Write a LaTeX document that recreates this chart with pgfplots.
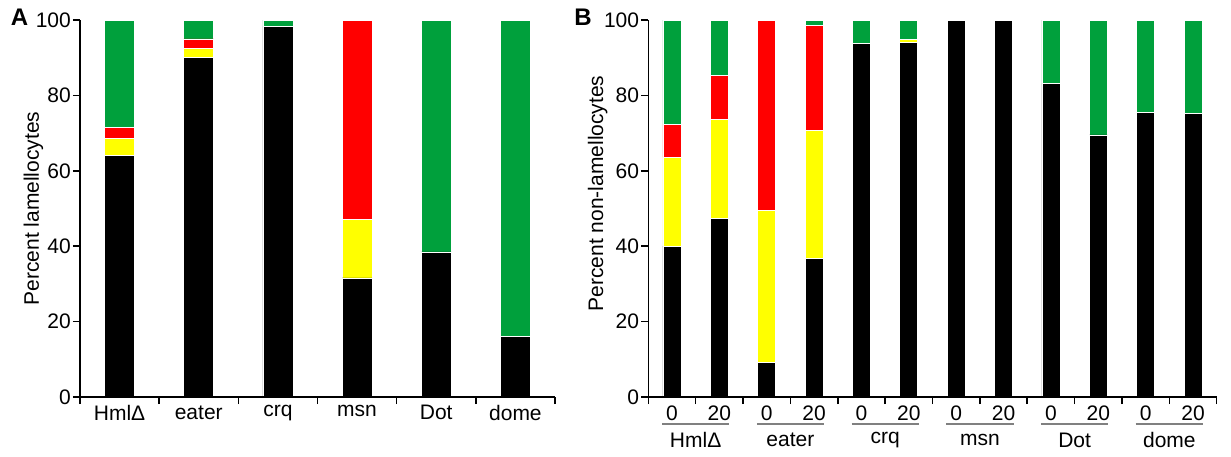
\documentclass[border=0pt]{standalone}
\usepackage{fontspec}
\setmainfont{Liberation Sans}
\usepackage{pgfplots}
\pgfplotsset{compat=1.18}
\definecolor{bgreen}{RGB}{0,160,60}
\definecolor{byellow}{RGB}{255,255,0}
\definecolor{bred}{RGB}{255,0,0}

\pgfplotsset{
  panel/.style={
    scale only axis, height=377pt,
    ymin=0, ymax=100, ytick={0,20,...,100},
    axis x line*=bottom, axis y line*=left,
    axis line style={line width=1.5pt},
    axis on top,
    ybar stacked, clip=false,
    tick style={line width=1.5pt, black},
    tick align=outside, major tick length=7pt,
    /pgf/number format/assume math mode=true,
    tick label style={font=\fontsize{21}{25}\selectfont},
    yticklabel style={inner sep=2pt},
    xticklabel style={yshift=-5pt},
    label style={font=\fontsize{21}{25}\selectfont},
    every axis plot/.append style={draw=white, line width=0.7pt},
    extra x tick style={major tick length=0pt},
  }
}

\begin{document}
\begin{tikzpicture}
\useasboundingbox (0,0) rectangle (1231pt,456pt);
\node[font=\bfseries\fontsize{24}{28}\selectfont] at (19.5pt,438.5pt) {A};
\node[font=\bfseries\fontsize{24}{28}\selectfont] at (583pt,438.5pt) {B};

% panel A
\begin{axis}[panel, width=475pt, at={(80pt,59pt)}, anchor=south west,
  xmin=-0.5, xmax=5.5, bar width=30pt,
  xtick={-0.5,0.5,...,5.5}, xticklabels={},
  extra x ticks={0,1,2,3,4,5},
  extra x tick labels={HmlΔ,eater,crq,msn,Dot,dome},
  ylabel={Percent lamellocytes}, ylabel shift={-13pt}]
\addplot[fill=black] coordinates {(0,64) (1,90) (2,98.2) (3,31.6) (4,38.5) (5,16)};
\addplot[fill=byellow] coordinates {(0,4.6) (1,2.5) (2,0) (3,15.6) (4,0) (5,0)};
\addplot[fill=bred] coordinates {(0,2.8) (1,2.5) (2,0) (3,52.8) (4,0) (5,0)};
\addplot[fill=bgreen] coordinates {(0,28.6) (1,5) (2,1.8) (3,0) (4,61.5) (5,84)};
\end{axis}

% panel B
\begin{axis}[panel, width=568.4pt, at={(648.3pt,59pt)}, anchor=south west,
  xmin=-0.5, xmax=11.5, bar width=18pt,
  xtick={-0.5,0.5,...,11.5}, xticklabels={},
  extra x ticks={0,1,...,11},
  extra x tick labels={0,20,0,20,0,20,0,20,0,20,0,20},
  ylabel={Percent non-lamellocytes}, ylabel shift={-9pt},
  ylabel style={at={(ticklabel cs:0.54)}}]
\addplot[fill=black] coordinates {(0,40) (1,47.4) (2,9.1) (3,36.8) (4,93.8) (5,94) (6,100) (7,100) (8,83.2) (9,69.5) (10,75.5) (11,75.2)};
\addplot[fill=byellow] coordinates {(0,23.6) (1,26.3) (2,40.5) (3,33.8) (4,0) (5,0.8) (6,0) (7,0) (8,0) (9,0) (10,0) (11,0)};
\addplot[fill=bred] coordinates {(0,8.7) (1,11.7) (2,50.4) (3,27.9) (4,0) (5,0) (6,0) (7,0) (8,0) (9,0) (10,0) (11,0)};
\addplot[fill=bgreen] coordinates {(0,27.7) (1,14.6) (2,0) (3,1.5) (4,6.2) (5,5.2) (6,0) (7,0) (8,16.8) (9,30.5) (10,24.5) (11,24.8)};
\draw[gray, line width=2pt] (axis cs:-0.21,-7.2) -- (axis cs:1.21,-7.2);
\draw[gray, line width=2pt] (axis cs:1.79,-7.2) -- (axis cs:3.21,-7.2);
\draw[gray, line width=2pt] (axis cs:3.79,-7.2) -- (axis cs:5.21,-7.2);
\draw[gray, line width=2pt] (axis cs:5.79,-7.2) -- (axis cs:7.21,-7.2);
\draw[gray, line width=2pt] (axis cs:7.79,-7.2) -- (axis cs:9.21,-7.2);
\draw[gray, line width=2pt] (axis cs:9.79,-7.2) -- (axis cs:11.21,-7.2);
\node[font=\fontsize{21}{25}\selectfont] at (axis cs:0.5,-11.4) {HmlΔ};
\node[font=\fontsize{21}{25}\selectfont] at (axis cs:2.5,-11.4) {eater};
\node[font=\fontsize{21}{25}\selectfont] at (axis cs:4.5,-11.4) {crq};
\node[font=\fontsize{21}{25}\selectfont] at (axis cs:6.5,-11.4) {msn};
\node[font=\fontsize{21}{25}\selectfont] at (axis cs:8.5,-11.4) {Dot};
\node[font=\fontsize{21}{25}\selectfont] at (axis cs:10.5,-11.4) {dome};
\end{axis}
\end{tikzpicture}
\end{document}
